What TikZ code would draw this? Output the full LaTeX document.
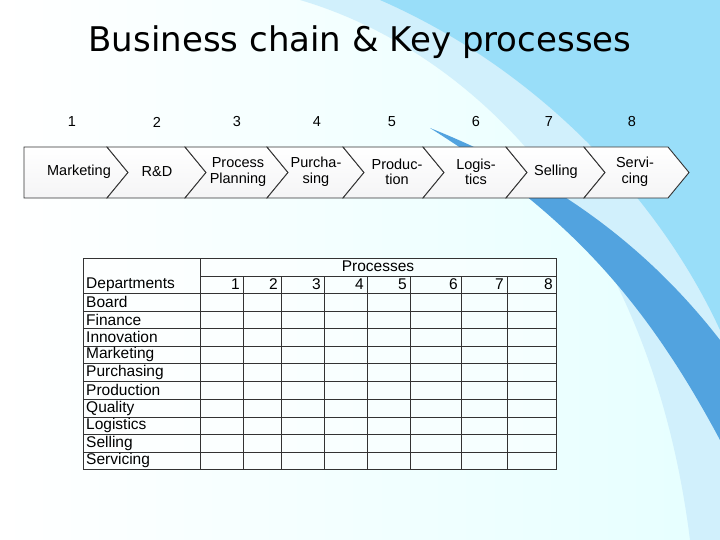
\documentclass[tikz,border=0pt]{standalone}
\usepackage{fontspec}
\setmainfont{Liberation Sans}
\newfontfamily\titlefont{DejaVu Sans}
\begin{document}
\begin{tikzpicture}[x=1pt,y=-1pt,
  chev/.style={draw=black!80,line width=0.9pt,top color=white,bottom color=blue!6!gray!8},
  clab/.style={font=\fontsize{14.5}{15.5}\selectfont,align=center,inner sep=0pt},
  num/.style={font=\fontsize{14.5}{15}\selectfont,inner sep=0pt},
  grid/.style={draw=black!80,line width=0.8pt},
  tcell/.style={font=\fontsize{15.5}{16}\selectfont,inner sep=0pt}]
\useasboundingbox (0,0) rectangle (720,540);
\shade[left color=white,right color=cyan!10] (0,0) rectangle (720,540);
% swoosh
\fill[cyan!18] (300,0) .. controls (470,50) and (650,220) .. (690,540) -- (720,540) -- (720,0) -- cycle;
\fill[cyan!40] (380,0) .. controls (540,70) and (660,200) .. (720,330) -- (720,0) -- cycle;
\fill[cyan!70!blue!70] (430,128) .. controls (560,210) and (640,290) .. (720,440) -- (720,340) .. controls (650,250) and (560,180) .. (430,128) -- cycle;
\node[font=\titlefont\fontsize{34}{36}\selectfont,inner sep=0pt] (title) at (360,42) {Business chain \& Key processes};
% chevrons
\foreach \a/\b [count=\i] in {24/107,107/185,185/267,267/343,343/423,423/506,506/584,584/668}{
  \ifnum\i=1
    \path[chev] (\a,147) -- (\b,147) -- (\b+21,172.5) -- (\b,198) -- (\a,198) -- cycle;
  \else
    \path[chev] (\a,147) -- (\b,147) -- (\b+21,172.5) -- (\b,198) -- (\a,198) -- (\a+21,172.5) -- cycle;
  \fi
}
\node[clab] (c1) at (79,172) {Marketing};
\node[clab] (c2) at (157,172) {R\&D};
\node[clab] (c3) at (238,172) {Process\\Planning};
\node[clab] (c4) at (316,172) {Purcha-\\sing};
\node[clab] (c5) at (397,172) {Produc-\\tion};
\node[clab] (c6) at (476,172) {Logis-\\tics};
\node[clab] (c7) at (556,172) {Selling};
\node[clab] (c8) at (635,172) {Servi-\\cing};
\foreach \x/\n in {72/1,157/2,237/3,317/4,392/5,476/6,549/7,632/8}
  \node[num] (n\n) at (\x,122) {\n};
% table
\fill[white,opacity=0.5] (83,258) rectangle (556,469);
\draw[grid] (83,258) rectangle (556,469);
\draw[grid] (200,258) -- (200,469);
\draw[grid] (200,276) -- (556,276);
\foreach \y in {293,311,328,346,363,381,399,417,434,452}
  \draw[grid] (83,\y) -- (556,\y);
\foreach \x in {243,281,324,367,410,461,507}
  \draw[grid] (\x,276) -- (\x,469);
\node[tcell] (proc) at (378,266) {Processes};
\foreach \x/\n in {240/1,278/2,321/3,364/4,407/5,458/6,504/7,553/8}
  \node[tcell,anchor=east] (h\n) at (\x,284.5) {\n};
\foreach \t/\y [count=\i] in {Departments/284.5,Board/302,Finance/319.5,Innovation/337,Marketing/354.5,Purchasing/372,Production/390,Quality/408,Logistics/425.5,Selling/443,Servicing/460.5}
  \node[tcell,anchor=west] (d\i) at (86,\y) {\t};
\end{tikzpicture}
\end{document}
